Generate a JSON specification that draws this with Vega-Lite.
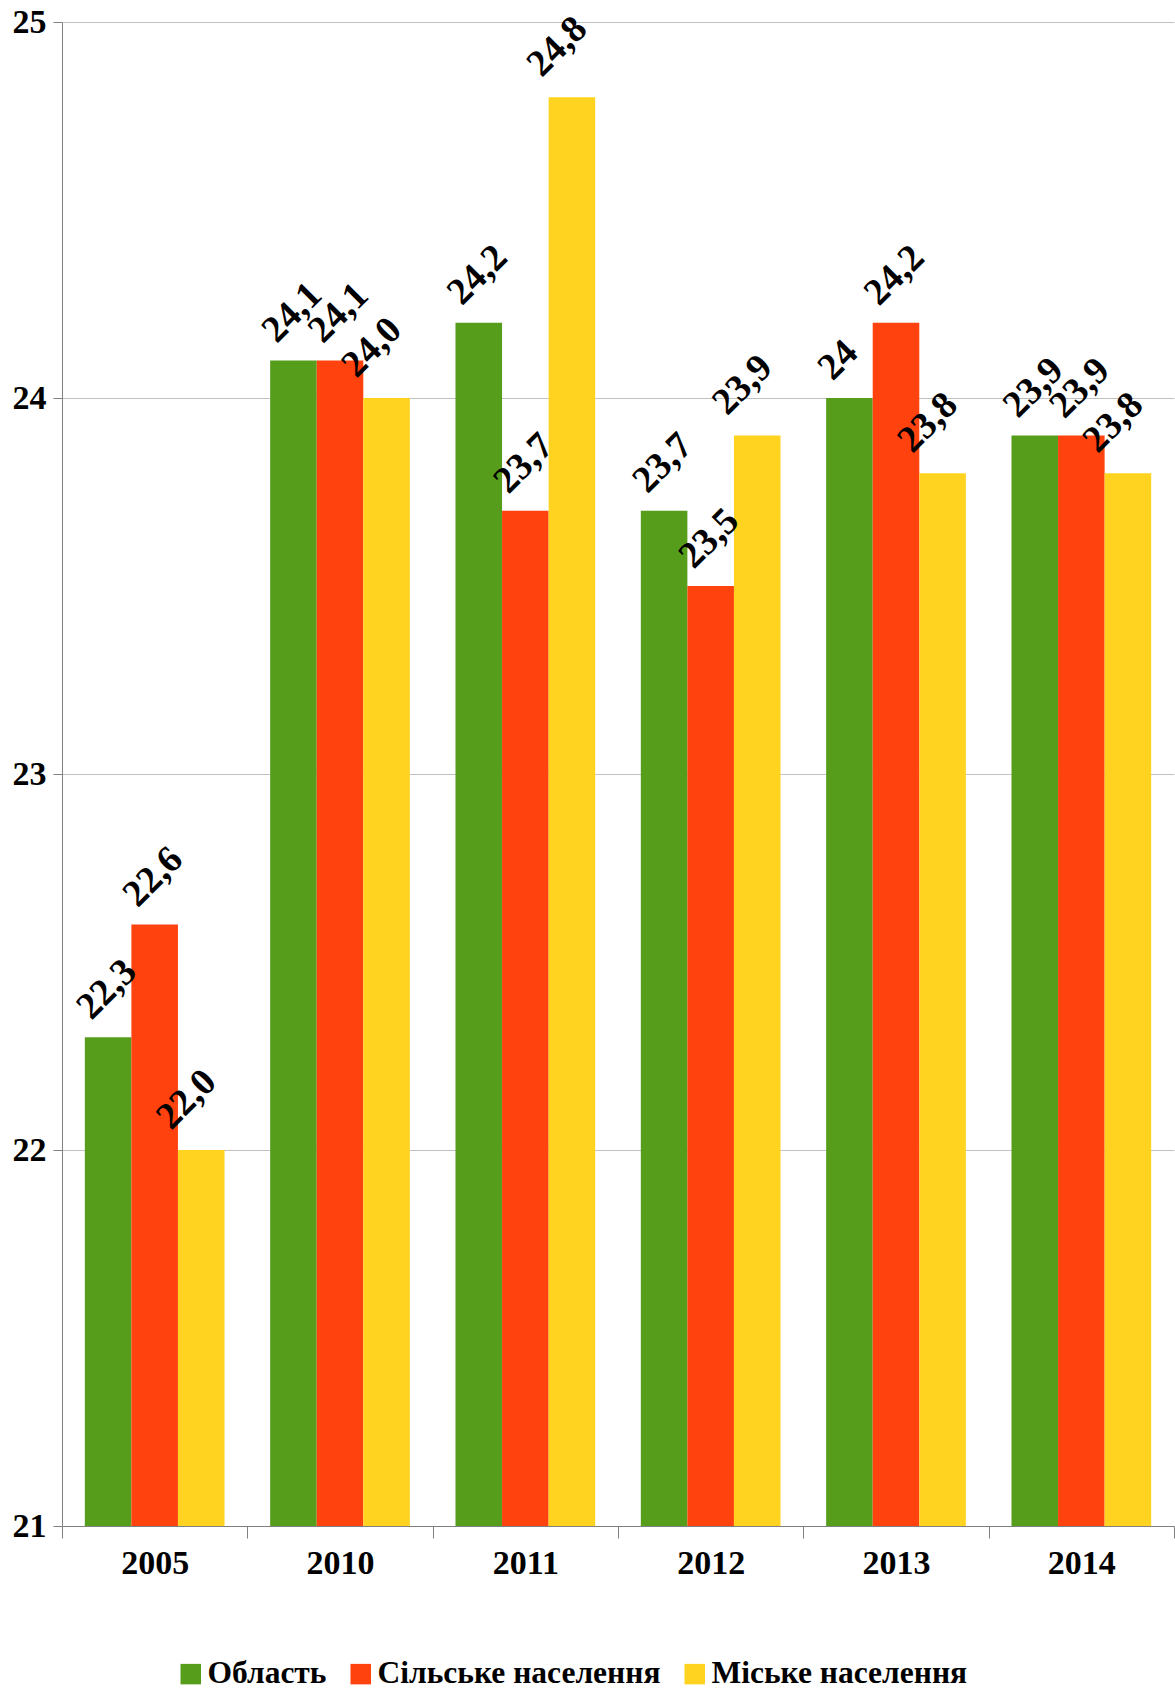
{
  "$schema": "https://vega.github.io/schema/vega-lite/v6.json",
  "width": 1112,
  "height": 1504,
  "autosize": {"type": "none"},
  "padding": {"left": 62, "top": 22, "right": 1, "bottom": 165},
  "background": "white",
  "data": {
    "values": [
      {"year": "2005", "series": "Область", "value": 22.3, "label": "22,3"},
      {"year": "2005", "series": "Сільське населення", "value": 22.6, "label": "22,6"},
      {"year": "2005", "series": "Міське населення", "value": 22.0, "label": "22,0"},
      {"year": "2010", "series": "Область", "value": 24.1, "label": "24,1"},
      {"year": "2010", "series": "Сільське населення", "value": 24.1, "label": "24,1"},
      {"year": "2010", "series": "Міське населення", "value": 24.0, "label": "24,0"},
      {"year": "2011", "series": "Область", "value": 24.2, "label": "24,2"},
      {"year": "2011", "series": "Сільське населення", "value": 23.7, "label": "23,7"},
      {"year": "2011", "series": "Міське населення", "value": 24.8, "label": "24,8"},
      {"year": "2012", "series": "Область", "value": 23.7, "label": "23,7"},
      {"year": "2012", "series": "Сільське населення", "value": 23.5, "label": "23,5"},
      {"year": "2012", "series": "Міське населення", "value": 23.9, "label": "23,9"},
      {"year": "2013", "series": "Область", "value": 24.0, "label": "24"},
      {"year": "2013", "series": "Сільське населення", "value": 24.2, "label": "24,2"},
      {"year": "2013", "series": "Міське населення", "value": 23.8, "label": "23,8"},
      {"year": "2014", "series": "Область", "value": 23.9, "label": "23,9"},
      {"year": "2014", "series": "Сільське населення", "value": 23.9, "label": "23,9"},
      {"year": "2014", "series": "Міське населення", "value": 23.8, "label": "23,8"}
    ]
  },
  "encoding": {
    "x": {
      "field": "year",
      "type": "nominal",
      "sort": null,
      "scale": {"paddingInner": 0, "paddingOuter": 0},
      "axis": {
        "title": null,
        "labelAngle": 0,
        "tickBand": "extent",
        "tickSize": 12,
        "tickColor": "#808080",
        "domainColor": "#808080",
        "labelPadding": 8,
        "labelFont": "Liberation Serif",
        "labelFontWeight": "bold",
        "labelFontSize": 34,
        "labelColor": "black"
      }
    },
    "xOffset": {
      "field": "series",
      "type": "nominal",
      "sort": ["Область", "Сільське населення", "Міське населення"],
      "scale": {"paddingInner": 0, "paddingOuter": 0.49}
    },
    "y": {
      "field": "value",
      "type": "quantitative",
      "scale": {"domain": [21, 25], "zero": false, "nice": false},
      "axis": {
        "title": null,
        "values": [21, 22, 23, 24, 25],
        "grid": true,
        "gridColor": "#c0c0c0",
        "tickSize": 9,
        "tickColor": "#808080",
        "domainColor": "#808080",
        "labelPadding": 7,
        "labelFont": "Liberation Serif",
        "labelFontWeight": "bold",
        "labelFontSize": 34,
        "labelColor": "black"
      }
    }
  },
  "layer": [
    {
      "mark": {"type": "bar"},
      "encoding": {
        "y2": {"datum": 21},
        "color": {
          "field": "series",
          "type": "nominal",
          "sort": ["Область", "Сільське населення", "Міське населення"],
          "scale": {
            "domain": ["Область", "Сільське населення", "Міське населення"],
            "range": ["#579d1c", "#ff420e", "#ffd320"]
          },
          "legend": {
            "title": null,
            "orient": "none",
            "direction": "horizontal",
            "legendX": 113,
            "legendY": 1636,
            "symbolType": "square",
            "symbolSize": 420,
            "symbolStrokeWidth": 0,
            "labelFont": "Liberation Serif",
            "labelFontWeight": "bold",
            "labelFontSize": 31.5,
            "labelColor": "black",
            "labelOffset": 1,
            "columnPadding": 18,
            "labelLimit": 0
          }
        }
      }
    },
    {
      "transform": [{"filter": "datum.series === 'Область'"}],
      "mark": {"type": "text", "angle": -45, "align": "left", "baseline": "alphabetic", "dx": -0.3, "dy": -23.3, "font": "Liberation Serif", "fontWeight": "bold", "fontSize": 38, "color": "black"},
      "encoding": {"text": {"field": "label"}}
    },
    {
      "transform": [{"filter": "datum.series === 'Сільське населення'"}],
      "mark": {"type": "text", "angle": -45, "align": "left", "baseline": "alphabetic", "dx": -0.7, "dy": -23.2, "font": "Liberation Serif", "fontWeight": "bold", "fontSize": 38, "color": "black"},
      "encoding": {"text": {"field": "label"}}
    },
    {
      "transform": [{"filter": "datum.series === 'Міське населення'"}],
      "mark": {"type": "text", "angle": -45, "align": "left", "baseline": "alphabetic", "dx": -7.8, "dy": -34.7, "font": "Liberation Serif", "fontWeight": "bold", "fontSize": 38, "color": "black"},
      "encoding": {"text": {"field": "label"}}
    }
  ],
  "config": {
    "view": {"stroke": null},
    "axis": {"domainWidth": 1, "tickWidth": 1}
  }
}
